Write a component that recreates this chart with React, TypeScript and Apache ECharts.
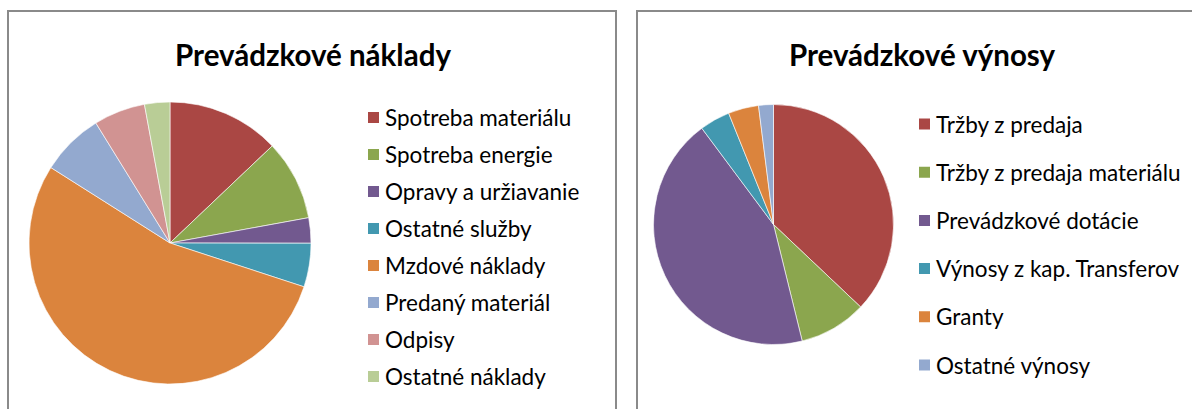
import React, { useEffect, useRef } from "react";
import * as echarts from "echarts";

const costTitle = "Prevádzkové náklady";
const costNames = [
  "Spotreba materiálu",
  "Spotreba energie",
  "Opravy a uržiavanie",
  "Ostatné služby",
  "Mzdové náklady",
  "Predaný materiál",
  "Odpisy",
  "Ostatné náklady",
];
const costValues = [12.9, 9.2, 2.9, 5.0, 53.9, 7.2, 5.9, 2.9];
const costColors = ["#AA4744", "#8BA64E", "#72598F", "#4298B0", "#DB843D", "#93A9CF", "#D19392", "#B9CD96"];

const revTitle = "Prevádzkové výnosy";
const revNames = [
  "Tržby z predaja",
  "Tržby z predaja materiálu",
  "Prevádzkové dotácie",
  "Výnosy z kap. Transferov",
  "Granty",
  "Ostatné výnosy",
];
const revValues = [37.1, 9.1, 43.7, 4.1, 4.1, 2.0];
const revColors = ["#AA4744", "#8BA64E", "#72598F", "#4298B0", "#DB843D", "#93A9CF"];

const FONT = "Lato, 'Open Sans', sans-serif";

export default function App() {
  const ref = useRef<HTMLDivElement>(null);
  useEffect(() => {
    document.body.style.margin = "0";
    if (!ref.current) return;
    const chart = echarts.init(ref.current, undefined, { renderer: "svg" });
    const mk = (names: string[], values: number[], colors: string[]) =>
      names.map((n, i) => ({ name: n, value: values[i], itemStyle: { color: colors[i] } }));
    chart.setOption({
      animation: false,
      backgroundColor: "#ffffff",
      graphic: [
        { type: "rect", shape: { x: 8, y: 11, width: 608, height: 430 }, style: { fill: "none", stroke: "#8a8a8a", lineWidth: 2 }, silent: true },
        { type: "rect", shape: { x: 637, y: 11, width: 600, height: 430 }, style: { fill: "none", stroke: "#8a8a8a", lineWidth: 2 }, silent: true },
        { type: "text", x: 313, y: 54, style: { text: costTitle, fontSize: 29.5, fontWeight: "bold", fontFamily: FONT, fill: "#000", align: "center", verticalAlign: "middle" } },
        { type: "text", x: 922, y: 54, style: { text: revTitle, fontSize: 29.5, fontWeight: "bold", fontFamily: FONT, fill: "#000", align: "center", verticalAlign: "middle" } },
      ],
      legend: [
        {
          data: costNames,
          orient: "vertical",
          left: 366,
          top: 106,
          padding: 0,
          itemWidth: 13,
          itemHeight: 13,
          itemGap: 14.0,
          icon: "rect",
          selectedMode: false,
          textStyle: { fontSize: 22.5, lineHeight: 22, fontFamily: FONT, color: "#000" },
        },
        {
          data: revNames,
          orient: "vertical",
          left: 917,
          top: 112.5,
          padding: 0,
          itemWidth: 13,
          itemHeight: 13,
          itemGap: 25.2,
          icon: "rect",
          selectedMode: false,
          textStyle: { fontSize: 22.5, lineHeight: 22, fontFamily: FONT, color: "#000" },
        },
      ],
      series: [
        {
          type: "pie",
          center: [170, 243],
          radius: 141,
          startAngle: 90,
          clockwise: true,
          label: { show: false },
          labelLine: { show: false },
          emphasis: { disabled: true },
          itemStyle: { borderColor: "#ffffff", borderWidth: 0.6 },
          data: mk(costNames, costValues, costColors),
        },
        {
          type: "pie",
          center: [773.5, 224.5],
          radius: 120,
          startAngle: 90,
          clockwise: true,
          label: { show: false },
          labelLine: { show: false },
          emphasis: { disabled: true },
          itemStyle: { borderColor: "#ffffff", borderWidth: 0.6 },
          data: mk(revNames, revValues, revColors),
        },
      ],
    });
    return () => chart.dispose();
  }, []);
  return <div ref={ref} style={{ width: 1192, height: 409 }} />;
}
